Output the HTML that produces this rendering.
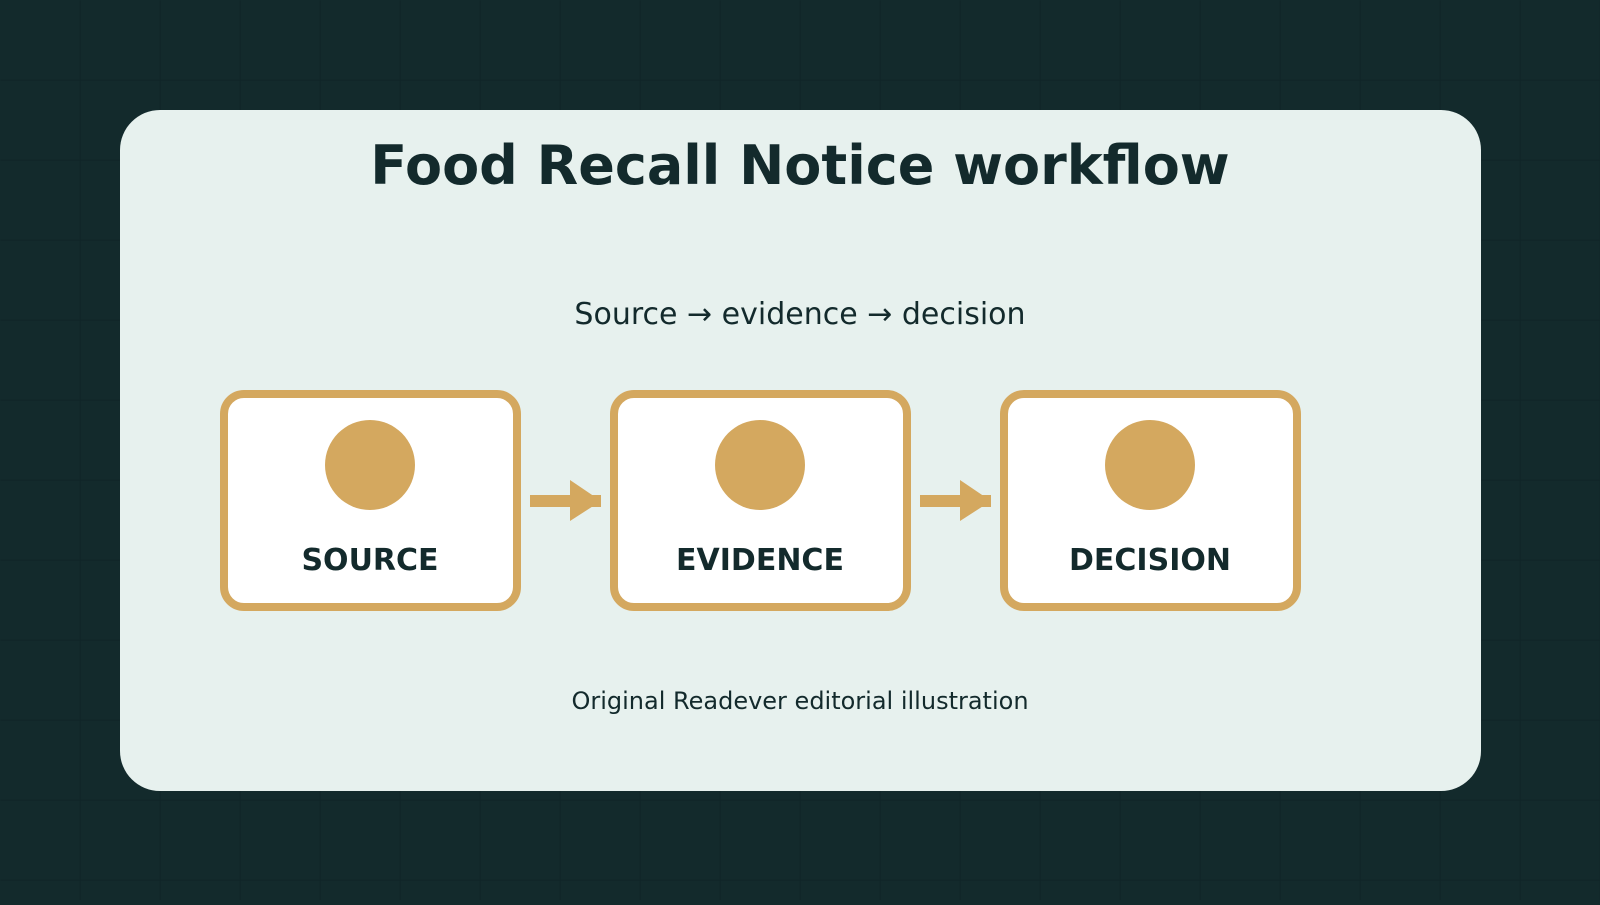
<!DOCTYPE html>
<html><head><style>
body{margin:0;width:1600px;height:900px;overflow:hidden;background:#132a2c;}
</style></head><body>
<svg width="1600" height="900" xmlns="http://www.w3.org/2000/svg" font-family="DejaVu Sans, sans-serif">
<defs><pattern id="g" width="80" height="80" patternUnits="userSpaceOnUse"><path d="M80 0V80H0" fill="none" stroke="#0f2326" stroke-width="1.5"/></pattern></defs>
<rect width="1600" height="900" fill="#132a2c"/>
<rect width="1600" height="900" fill="url(#g)" transform="translate(0.5,0.5)"/>
<rect x="120" y="110" width="1361" height="681" rx="40" fill="#e7f1ee"/>
<text x="800" y="184" text-anchor="middle" font-size="54" font-weight="bold" fill="#132a2c">Food Recall Notice workflow</text>
<text x="800" y="324" text-anchor="middle" font-size="30" fill="#132a2c">Source → evidence → decision</text>
<g fill="#fff" stroke="#d4a85f" stroke-width="8">
<rect x="224" y="394" width="293" height="213" rx="20"/>
<rect x="614" y="394" width="293" height="213" rx="20"/>
<rect x="1004" y="394" width="293" height="213" rx="20"/>
</g>
<g fill="#d4a85f">
<circle cx="370" cy="465" r="45"/><circle cx="760" cy="465" r="45"/><circle cx="1150" cy="465" r="45"/>
<rect x="530" y="495" width="71" height="12"/><polygon points="570,480 601,501 570,521"/>
<rect x="920" y="495" width="71" height="12"/><polygon points="960,480 991,501 960,521"/>
</g>
<g font-size="30" font-weight="bold" fill="#132a2c" text-anchor="middle">
<text x="370" y="570">SOURCE</text><text x="760" y="570">EVIDENCE</text><text x="1150" y="570">DECISION</text>
</g>
<text x="800" y="709" text-anchor="middle" font-size="24" fill="#132a2c">Original Readever editorial illustration</text>
</svg>
</body></html>
